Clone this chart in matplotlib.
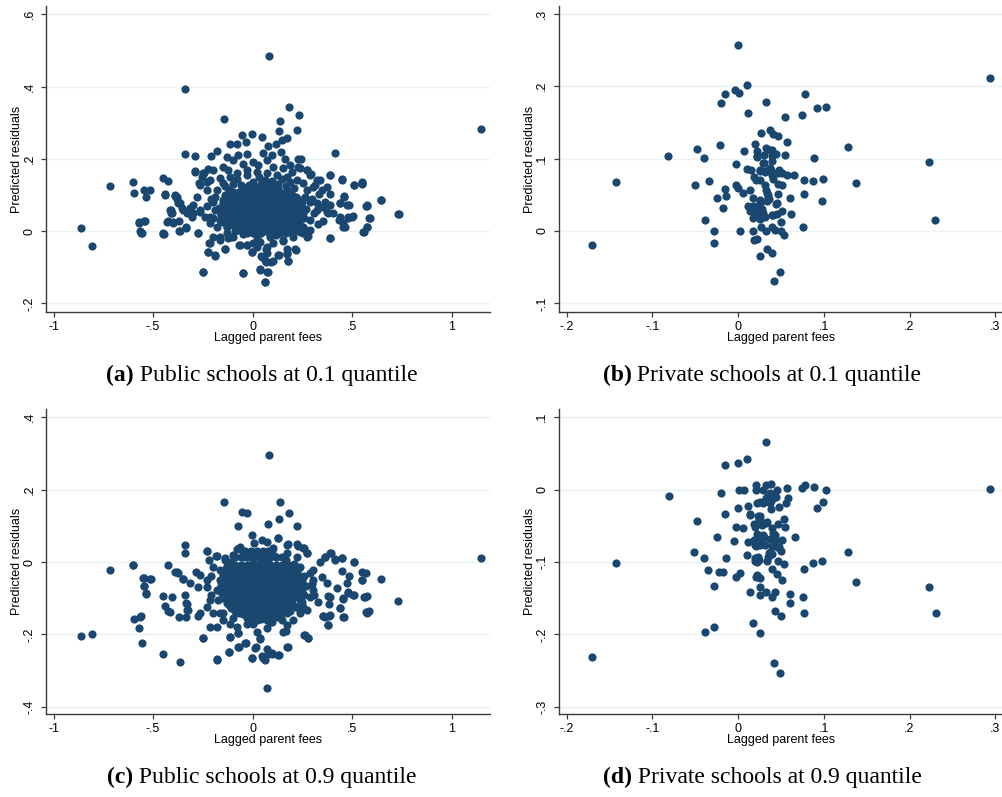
import numpy as np
import matplotlib
matplotlib.use("Agg")
import matplotlib.pyplot as plt
from matplotlib.offsetbox import TextArea, HPacker, AnnotationBbox

# residuals vs lagged parent fees, (x, y) pairs per panel
pub_q10_pts = [
    # outlying schools
    (0.082, 0.485), (-0.340, 0.392), (0.181, 0.344), (0.234, 0.321), (0.137, 0.305),
    (-0.142, 0.310), (1.150, 0.282), (0.223, 0.281), (0.131, 0.277), (-0.005, 0.269),
    (-0.055, 0.265), (0.045, 0.260), (0.172, 0.259), (0.146, 0.252), (-0.032, 0.247),
    (-0.077, 0.241), (-0.114, 0.241), (0.119, 0.241), (0.080, 0.236), (-0.177, 0.222),
    (0.142, 0.218), (-0.340, 0.214), (-0.288, 0.208), (-0.211, 0.207), (-0.030, 0.214),
    (0.052, 0.215), (0.099, 0.211), (0.415, 0.215), (0.164, 0.199), (0.226, 0.200),
    (0.241, 0.200), (-0.131, 0.206), (-0.072, 0.210), (-0.291, 0.163), (-0.450, 0.148),
    (-0.423, 0.139), (-0.601, 0.137), (-0.715, 0.125), (-0.594, 0.105), (-0.514, 0.115),
    (-0.544, 0.114), (-0.537, 0.093), (-0.440, 0.101), (-0.390, 0.101), (-0.382, 0.095),
    (-0.374, 0.079), (-0.412, 0.058), (-0.409, 0.049), (-0.423, 0.029), (-0.400, 0.026),
    (-0.372, 0.029), (-0.569, 0.024), (-0.542, 0.029), (-0.566, 0.001), (-0.558, -0.006),
    (-0.450, -0.006), (-0.443, -0.008), (-0.367, 0.000), (-0.336, 0.009), (-0.276, -0.004),
    (-0.860, 0.009), (-0.808, -0.042), (-0.355, 0.065), (-0.332, 0.049), (-0.306, 0.040),
    (-0.301, 0.072), (-0.264, 0.058), (-0.278, 0.094), (-0.270, 0.134), (-0.256, 0.150),
    (-0.244, 0.160), (-0.231, 0.137), (0.644, 0.085), (0.731, 0.047), (0.571, 0.069),
    (0.574, 0.072), (0.586, 0.037), (0.576, 0.012), (0.558, -0.002), (0.510, 0.127),
    (0.552, 0.135), (0.552, 0.129), (0.448, 0.141), (0.388, 0.155), (0.460, 0.095),
    (0.502, 0.040), (0.480, 0.035), (0.455, 0.012), (0.436, 0.032), (0.484, 0.072),
    (0.439, 0.077), (0.388, -0.020), (0.352, 0.029), (0.380, 0.049), (0.363, 0.081),
    (0.335, 0.104), (0.313, 0.127), (0.295, 0.157), (0.271, 0.169), (0.229, 0.176),
    (0.187, 0.182), (-0.248, -0.113), (-0.223, -0.057), (-0.189, -0.069), (-0.137, -0.049),
    (-0.050, -0.115), (0.039, -0.106), (0.074, -0.113), (0.064, -0.140), (0.091, -0.085),
    (0.062, -0.080), (0.132, -0.067), (0.171, -0.062), (0.177, -0.082), (0.213, -0.051),
    (0.151, -0.025), (-0.002, -0.057), (0.045, -0.071), (0.070, -0.062), (-0.218, -0.034),
    (-0.164, -0.025), (-0.114, -0.016), (-0.070, -0.039), (-0.030, -0.039), (0.020, -0.043),
    (0.279, -0.014), (0.251, -0.006), (0.204, -0.006), (0.257, 0.007), (0.288, 0.003),
    # ring around the centre
    (-0.096, 0.197), (-0.046, 0.187), (0.004, 0.192), (0.029, 0.183), (0.071, 0.197),
    (0.105, 0.178), (0.155, 0.174), (0.197, 0.164), (0.239, 0.174), (0.272, 0.169),
    (-0.289, 0.166), (-0.247, 0.160), (-0.222, 0.171), (-0.197, 0.169), (-0.147, 0.178),
    (-0.122, 0.169), (0.289, 0.155), (0.323, 0.141), (0.339, 0.141), (0.389, 0.155),
    (0.451, 0.143), (0.512, 0.127), (0.552, 0.132), (-0.264, 0.127), (-0.214, 0.141),
    (-0.163, 0.146), (0.306, 0.123), (0.348, 0.114), (0.373, 0.123), (0.389, 0.104),
    (0.461, 0.097), (0.644, 0.086), (-0.230, 0.114), (-0.188, 0.095), (-0.364, 0.077),
    (-0.348, 0.058), (-0.314, 0.063), (-0.297, 0.049), (-0.264, 0.054), (-0.381, 0.090),
    (-0.440, 0.102), (-0.389, 0.097), (-0.415, 0.058), (-0.406, 0.049), (0.289, 0.081),
    (0.323, 0.077), (0.356, 0.067), (0.389, 0.072), (0.440, 0.077), (0.473, 0.072),
    (0.323, 0.058), (0.373, 0.054), (0.406, 0.049), (0.440, 0.040), (0.481, 0.040),
    (0.506, 0.042), (0.574, 0.069), (0.590, 0.037), (0.736, 0.047), (0.456, 0.021),
    (0.465, 0.012), (0.574, 0.012), (0.557, -0.002), (0.389, -0.020), (0.272, -0.016),
    (0.239, -0.002), (0.255, 0.012), (-0.214, 0.040), (-0.214, 0.021), (-0.180, 0.012),
    (-0.163, -0.016), (-0.130, -0.006), (-0.122, -0.020), (-0.197, -0.016), (-0.096, -0.016),
    (-0.063, -0.039), (-0.029, -0.039), (0.004, -0.034), (0.038, -0.030), (0.071, -0.043),
    (0.105, -0.034), (0.152, -0.027), (0.205, -0.016), (-0.431, 0.026), (-0.398, 0.023),
    (-0.369, 0.000), (-0.336, 0.010), (-0.274, -0.004), (-0.448, -0.008), (-0.569, 0.021),
    (-0.560, -0.005), (-0.544, 0.028), (-0.214, -0.032), (-0.137, -0.050), (-0.001, -0.057),
    (-0.222, -0.059), (-0.188, -0.067), (0.068, -0.051), (0.101, -0.084), (0.068, -0.085),
    (0.044, -0.068), (0.130, -0.066), (0.175, -0.051), (0.175, -0.064), (0.217, -0.052),
    (0.177, -0.084), (-0.247, -0.113), (-0.048, -0.115), (0.039, -0.108), (0.075, -0.113),
    (0.063, -0.141), (-0.180, 0.114), (-0.147, 0.132), (-0.113, 0.150), (-0.079, 0.160),
    (-0.029, 0.169), (0.021, 0.164), (0.071, 0.160), (0.122, 0.155), (0.172, 0.150),
    (0.222, 0.141), (0.255, 0.132), (0.272, 0.114), (0.264, 0.095), (0.239, 0.072),
    (0.255, 0.049), (0.239, 0.030), (0.222, 0.017), (0.188, 0.003), (0.138, -0.006),
    (0.088, -0.016), (0.021, -0.016), (-0.029, -0.006), (-0.079, 0.003), (-0.130, 0.012),
    (-0.163, 0.030), (-0.188, 0.058), (-0.197, 0.081),
    # crowded band next to the centre
    (-0.14, 0.125), (-0.10, 0.130), (-0.06, 0.128), (0.13, 0.130), (0.17, 0.125),
    (0.21, 0.120), (0.19, 0.135), (-0.08, 0.145), (0.00, 0.135), (0.06, 0.140),
    (0.10, 0.138), (0.15, 0.145), (-0.12, 0.115), (0.20, 0.100), (0.23, 0.090),
    (0.25, 0.080), (0.27, 0.060), (0.26, 0.035), (0.24, 0.015), (0.21, 0.005),
    (0.17, -0.005), (0.12, -0.012), (-0.05, -0.008), (-0.09, 0.000), (-0.13, 0.010),
    (-0.15, 0.025), (-0.16, 0.045), (-0.17, 0.065), (-0.15, 0.085), (-0.14, 0.100),
    (-0.21, 0.090), (-0.23, 0.070), (-0.24, 0.040), (-0.20, 0.035), (0.30, 0.090),
    (0.31, 0.050), (0.29, 0.030), (0.33, 0.020), (0.03, 0.150), (-0.03, 0.155),
    (0.09, 0.125), (0.04, 0.130), (-0.02, 0.128),
    # dense centre
    (0.00, -0.004), (0.04, -0.006), (0.08, -0.003),
    (-0.045, 0.011), (-0.015, 0.009), (0.015, 0.012), (0.045, 0.008), (0.075, 0.011),
    (0.105, 0.010), (0.135, 0.012), (0.16, 0.009),
    (-0.10, 0.026), (-0.07, 0.024), (-0.04, 0.027), (-0.01, 0.025), (0.02, 0.023),
    (0.05, 0.026), (0.08, 0.024), (0.11, 0.027), (0.14, 0.025), (0.17, 0.023), (0.19, 0.027),
    (-0.115, 0.041), (-0.085, 0.039), (-0.055, 0.042), (-0.025, 0.040), (0.005, 0.038),
    (0.035, 0.041), (0.065, 0.039), (0.095, 0.042), (0.125, 0.040), (0.155, 0.038),
    (0.185, 0.041), (0.215, 0.039),
    (-0.13, 0.056), (-0.10, 0.054), (-0.07, 0.057), (-0.04, 0.055), (-0.01, 0.053),
    (0.02, 0.056), (0.05, 0.054), (0.08, 0.057), (0.11, 0.055), (0.14, 0.053),
    (0.17, 0.056), (0.20, 0.054), (0.23, 0.056),
    (-0.115, 0.071), (-0.085, 0.069), (-0.055, 0.072), (-0.025, 0.070), (0.005, 0.068),
    (0.035, 0.071), (0.065, 0.069), (0.095, 0.072), (0.125, 0.070), (0.155, 0.068),
    (0.185, 0.071), (0.215, 0.069),
    (-0.10, 0.086), (-0.07, 0.084), (-0.04, 0.087), (-0.01, 0.085), (0.02, 0.083),
    (0.05, 0.086), (0.08, 0.084), (0.11, 0.087), (0.14, 0.085), (0.17, 0.083), (0.19, 0.086),
    (-0.055, 0.101), (-0.025, 0.099), (0.005, 0.102), (0.035, 0.100), (0.065, 0.098),
    (0.095, 0.101), (0.125, 0.099), (0.155, 0.102), (0.175, 0.100),
    (-0.02, 0.116), (0.01, 0.114), (0.04, 0.117), (0.07, 0.115), (0.10, 0.113),
]

# overlapping schools in the solid middle of the public panels, row by row: (y, xs)
pub_q10_core_rows = [
    (0.003, [-0.08, -0.05, -0.02, 0.01, 0.04, 0.07, 0.10, 0.13]),
    (0.018, [-0.13, -0.10, -0.07, -0.04, -0.01, 0.02, 0.05, 0.08, 0.11, 0.14, 0.17, 0.20]),
    (0.033, [-0.15, -0.12, -0.09, -0.06, -0.03, 0.00, 0.03, 0.06, 0.09, 0.12, 0.15, 0.18,
             0.21, 0.23]),
    (0.048, [-0.16, -0.13, -0.10, -0.07, -0.04, -0.01, 0.02, 0.05, 0.08, 0.11, 0.14, 0.17,
             0.20, 0.23, 0.25]),
    (0.063, [-0.16, -0.13, -0.10, -0.07, -0.04, -0.01, 0.02, 0.05, 0.08, 0.11, 0.14, 0.17,
             0.20, 0.23, 0.25]),
    (0.078, [-0.15, -0.12, -0.09, -0.06, -0.03, 0.00, 0.03, 0.06, 0.09, 0.12, 0.15, 0.18,
             0.21, 0.24]),
    (0.093, [-0.13, -0.10, -0.07, -0.04, -0.01, 0.02, 0.05, 0.08, 0.11, 0.14, 0.17, 0.20,
             0.22]),
    (0.108, [-0.10, -0.07, -0.04, -0.01, 0.02, 0.05, 0.08, 0.11, 0.14, 0.17, 0.19]),
    (0.122, [-0.05, -0.02, 0.01, 0.04, 0.07, 0.10, 0.13]),
]

pub_q90_core_rows = [
    (0.030, [-0.04, -0.01, 0.02, 0.05, 0.08, 0.10]),
    (0.015, [-0.09, -0.06, -0.03, 0.00, 0.03, 0.06, 0.09, 0.12, 0.15]),
    (-0.007, [-0.12, -0.09, -0.06, -0.03, 0.00, 0.03, 0.06, 0.09, 0.12, 0.15, 0.18]),
    (-0.022, [-0.14, -0.11, -0.08, -0.05, -0.02, 0.01, 0.04, 0.07, 0.10, 0.13, 0.16, 0.19,
              0.21]),
    (-0.037, [-0.15, -0.12, -0.09, -0.06, -0.03, 0.00, 0.03, 0.06, 0.09, 0.12, 0.15, 0.18,
              0.21, 0.23]),
    (-0.052, [-0.16, -0.13, -0.10, -0.07, -0.04, -0.01, 0.02, 0.05, 0.08, 0.11, 0.14, 0.17,
              0.20, 0.23, 0.25]),
    (-0.067, [-0.16, -0.13, -0.10, -0.07, -0.04, -0.01, 0.02, 0.05, 0.08, 0.11, 0.14, 0.17,
              0.20, 0.23, 0.25]),
    (-0.082, [-0.16, -0.13, -0.10, -0.07, -0.04, -0.01, 0.02, 0.05, 0.08, 0.11, 0.14, 0.17,
              0.20, 0.23, 0.25]),
    (-0.097, [-0.15, -0.12, -0.09, -0.06, -0.03, 0.00, 0.03, 0.06, 0.09, 0.12, 0.15, 0.18,
              0.21, 0.23]),
    (-0.112, [-0.13, -0.10, -0.07, -0.04, -0.01, 0.02, 0.05, 0.08, 0.11, 0.14, 0.17, 0.20]),
    (-0.127, [-0.11, -0.08, -0.05, -0.02, 0.01, 0.04, 0.07, 0.10, 0.13, 0.16, 0.19]),
    (-0.142, [-0.07, -0.04, -0.01, 0.02, 0.05, 0.08, 0.11, 0.14]),
    (-0.157, [-0.02, 0.01, 0.04, 0.07, 0.10]),
]

priv_q10_pts = [
    (0.000, 0.257), (0.0105, 0.202), (-0.004, 0.195), (0.001, 0.191), (-0.015, 0.189),
    (-0.020, 0.177), (0.032, 0.178), (0.012, 0.163), (0.078, 0.189), (0.092, 0.170),
    (0.102, 0.172), (0.074, 0.161), (0.055, 0.158), (0.294, 0.212), (0.027, 0.135),
    (0.037, 0.139), (0.041, 0.134), (0.046, 0.131), (0.057, 0.123), (0.020, 0.120),
    (0.032, 0.115), (0.022, 0.111), (0.0074, 0.111), (0.040, 0.112), (-0.021, 0.119),
    (-0.048, 0.114), (-0.040, 0.101), (-0.082, 0.103), (0.022, 0.102), (0.030, 0.105),
    (0.039, 0.104), (0.044, 0.107), (0.055, 0.105), (0.089, 0.101), (0.128, 0.116),
    (0.223, 0.096), (-0.003, 0.093), (0.030, 0.094), (0.039, 0.097), (0.0105, 0.086),
    (0.015, 0.084), (0.026, 0.083), (0.033, 0.083), (0.038, 0.084), (0.048, 0.084),
    (0.040, 0.078), (0.051, 0.080), (0.057, 0.077), (0.065, 0.077), (0.077, 0.070),
    (0.087, 0.069), (0.099, 0.072), (0.138, 0.066), (-0.143, 0.068), (-0.050, 0.063),
    (-0.034, 0.069), (-0.003, 0.063), (0.000, 0.060), (0.021, 0.070), (0.025, 0.071),
    (0.031, 0.063), (0.041, 0.072), (0.046, 0.065), (0.051, 0.063), (0.006, 0.053),
    (0.014, 0.056), (0.033, 0.056), (0.035, 0.050), (0.047, 0.051), (-0.015, 0.058),
    (-0.014, 0.049), (-0.025, 0.045), (0.017, 0.045), (0.036, 0.044), (0.061, 0.046),
    (0.077, 0.051), (0.098, 0.041), (-0.018, 0.032), (0.012, 0.035), (0.017, 0.034),
    (0.026, 0.038), (0.044, 0.037), (0.014, 0.028), (0.022, 0.031), (0.028, 0.031),
    (0.017, 0.018), (0.025, 0.017), (0.031, 0.020), (0.040, 0.022), (0.045, 0.024),
    (0.051, 0.027), (0.062, 0.024), (0.050, 0.012), (-0.039, 0.015), (-0.028, 0.000),
    (0.002, 0.000), (0.017, 0.000), (0.027, 0.005), (0.032, 0.000), (0.040, 0.006),
    (0.043, 0.001), (0.050, 0.000), (0.053, -0.006), (0.076, 0.006), (0.230, 0.015),
    (-0.028, -0.016), (-0.170, -0.019), (0.019, -0.012), (0.022, -0.011), (0.034, -0.025),
    (0.025, -0.035), (0.040, -0.030), (0.049, -0.057), (0.042, -0.069),
    (0.016, 0.031), (0.0257, 0.038), (0.0335, 0.041), (0.045, 0.038), (0.0218, 0.0245),
    (0.0296, 0.0245), (0.041, 0.022), (0.018, 0.075), (0.0257, 0.084), (0.0315, 0.082),
    (0.037, 0.087), (0.047, 0.080), (0.0218, 0.103), (0.0296, 0.094), (0.037, 0.112),
    (0.0335, 0.052), (0.0354, 0.045), (0.0257, 0.043),
]

pub_q90_pts = [
    # outlying schools
    (0.082, 0.297), (-0.142, 0.165), (0.137, 0.166), (-0.054, 0.138), (-0.030, 0.135),
    (0.181, 0.135), (0.131, 0.120), (0.080, 0.104), (-0.072, 0.100), (0.223, 0.100),
    (-0.005, 0.075), (0.127, 0.066), (1.150, 0.010), (-0.340, 0.046), (-0.340, 0.024),
    (-0.231, 0.030), (-0.182, 0.017), (-0.601, -0.009), (-0.715, -0.023), (-0.423, -0.008),
    (-0.390, -0.027), (-0.374, -0.029), (-0.546, -0.044), (-0.514, -0.048), (-0.544, -0.065),
    (-0.537, -0.087), (-0.348, -0.048), (-0.450, -0.093), (-0.403, -0.098), (-0.442, -0.122),
    (-0.423, -0.135), (-0.415, -0.137), (-0.372, -0.152), (-0.340, -0.091), (-0.332, -0.116),
    (-0.324, -0.133), (-0.594, -0.158), (-0.566, -0.151), (-0.569, -0.181), (-0.558, -0.224),
    (-0.860, -0.205), (-0.808, -0.199), (-0.450, -0.255), (-0.367, -0.276), (-0.248, -0.210),
    (-0.177, -0.269), (-0.119, -0.248), (-0.114, -0.208), (-0.075, -0.197), (-0.070, -0.236),
    (-0.037, -0.223), (-0.002, -0.265), (0.015, -0.236), (0.049, -0.260), (0.064, -0.271),
    (0.070, -0.239), (0.079, -0.254), (0.099, -0.254), (0.134, -0.256), (0.174, -0.234),
    (0.167, -0.191), (0.037, -0.212), (0.074, -0.348), (0.258, -0.203), (0.279, -0.209),
    (0.380, -0.174), (0.352, -0.149), (0.388, -0.147), (0.455, -0.153), (0.439, -0.128),
    (0.455, -0.101), (0.480, -0.087), (0.509, -0.091), (0.559, -0.096), (0.576, -0.094),
    (0.571, -0.138), (0.586, -0.136), (0.552, -0.050), (0.552, -0.027), (0.571, -0.031),
    (0.644, -0.047), (0.731, -0.109), (0.510, 0.000), (0.448, 0.010), (0.448, -0.025),
    (0.484, -0.038), (0.472, -0.059), (0.425, -0.073), (0.393, 0.024), (0.363, 0.015),
    (0.413, 0.006), (0.380, -0.093), (0.385, -0.116), (0.363, -0.151), (0.226, 0.044),
    (0.179, 0.049), (0.254, 0.038), (0.274, 0.024),
    # ring around the centre
    (-0.227, 0.030), (-0.219, 0.006), (-0.180, 0.017), (-0.381, -0.027), (-0.348, -0.048),
    (-0.285, -0.027), (-0.264, -0.036), (-0.272, -0.068), (-0.314, -0.059), (-0.230, -0.050),
    (-0.197, -0.013), (-0.163, -0.022), (-0.138, 0.006), (-0.113, 0.001), (-0.079, 0.035),
    (-0.063, 0.042), (0.008, 0.052), (0.046, 0.061), (0.071, 0.056), (0.130, 0.065),
    (0.172, 0.047), (0.222, 0.050), (0.259, 0.038), (0.272, 0.024), (0.339, 0.001),
    (0.364, 0.013), (0.389, 0.026), (0.415, 0.007), (0.451, 0.010), (0.512, 0.001),
    (0.306, -0.022), (0.348, -0.041), (0.373, -0.059), (0.389, -0.096), (0.440, -0.128),
    (0.456, -0.100), (0.481, -0.082), (0.506, -0.091), (0.549, -0.050), (0.565, -0.096),
    (0.574, -0.140), (0.306, -0.050), (0.306, -0.077), (0.289, -0.096), (0.272, -0.133),
    (0.239, -0.142), (0.255, -0.124), (0.264, -0.202), (0.280, -0.209), (0.381, -0.174),
    (0.356, -0.149), (0.384, -0.149), (0.460, -0.153), (0.172, -0.174), (0.180, -0.234),
    (0.130, -0.257), (0.096, -0.252), (0.054, -0.266), (0.013, -0.237), (-0.001, -0.265),
    (-0.034, -0.225), (-0.071, -0.234), (-0.117, -0.249), (-0.177, -0.271), (-0.247, -0.211),
    (-0.113, -0.208), (-0.071, -0.197), (0.021, -0.193), (0.038, -0.211), (0.071, -0.183),
    (0.088, -0.165), (0.155, -0.193), (0.205, -0.160), (-0.147, -0.160), (-0.180, -0.179),
    (-0.214, -0.179), (-0.163, -0.142), (-0.197, -0.142), (-0.230, -0.124), (-0.214, -0.105),
    (-0.334, -0.151), (-0.334, -0.114), (-0.328, -0.133), (-0.272, -0.149), (-0.264, -0.142),
    (-0.562, -0.149), (-0.549, -0.044), (-0.512, -0.047), (-0.544, -0.066), (-0.535, -0.088),
    (-0.600, -0.009), (-0.147, -0.140), (-0.105, -0.119), (-0.113, -0.170), (-0.079, -0.179),
    (-0.029, -0.170), (0.021, -0.160), (0.122, -0.151), (0.172, -0.142), (0.222, -0.124),
    (0.239, -0.105), (0.239, -0.077), (0.239, -0.050), (0.239, -0.013), (0.222, 0.015),
    (0.172, 0.024), (0.105, 0.038), (-0.046, 0.029), (-0.130, -0.013), (-0.163, -0.050),
    (-0.180, -0.077), (-0.172, -0.105),
    # crowded band next to the centre
    (-0.14, 0.010), (-0.10, 0.020), (-0.05, 0.015), (0.12, 0.015), (0.17, 0.005),
    (0.21, -0.005), (0.23, -0.020), (0.26, -0.040), (0.27, -0.065), (0.26, -0.090),
    (0.25, -0.110), (0.22, -0.125), (0.19, -0.135), (0.15, -0.140), (0.12, -0.150),
    (-0.05, -0.145), (-0.09, -0.135), (-0.12, -0.120), (-0.15, -0.100), (-0.16, -0.080),
    (-0.16, -0.055), (-0.15, -0.030), (-0.13, -0.010), (-0.21, -0.040), (-0.23, -0.070),
    (-0.21, -0.090), (0.30, -0.060), (0.31, -0.090), (0.29, -0.030), (0.00, 0.025),
    (0.06, 0.020), (0.09, 0.030), (0.02, -0.155), (0.07, -0.160), (0.00, -0.170),
    (-0.03, -0.155), (0.10, -0.165), (0.15, -0.160), (-0.10, -0.155), (0.33, -0.110),
    # dense centre
    (0.00, 0.001), (0.04, -0.002), (0.08, 0.002),
    (-0.045, -0.014), (-0.015, -0.016), (0.015, -0.013), (0.045, -0.017), (0.075, -0.015),
    (0.105, -0.014), (0.135, -0.016), (0.16, -0.013),
    (-0.10, -0.029), (-0.07, -0.031), (-0.04, -0.028), (-0.01, -0.030), (0.02, -0.032),
    (0.05, -0.029), (0.08, -0.031), (0.11, -0.028), (0.14, -0.030), (0.17, -0.032), (0.19, -0.029),
    (-0.115, -0.044), (-0.085, -0.046), (-0.055, -0.043), (-0.025, -0.045), (0.005, -0.047),
    (0.035, -0.044), (0.065, -0.046), (0.095, -0.043), (0.125, -0.045), (0.155, -0.047),
    (0.185, -0.044), (0.215, -0.046),
    (-0.13, -0.059), (-0.10, -0.061), (-0.07, -0.058), (-0.04, -0.060), (-0.01, -0.062),
    (0.02, -0.059), (0.05, -0.061), (0.08, -0.058), (0.11, -0.060), (0.14, -0.062),
    (0.17, -0.059), (0.20, -0.061), (0.23, -0.059),
    (-0.115, -0.074), (-0.085, -0.076), (-0.055, -0.073), (-0.025, -0.075), (0.005, -0.077),
    (0.035, -0.074), (0.065, -0.076), (0.095, -0.073), (0.125, -0.075), (0.155, -0.077),
    (0.185, -0.074), (0.215, -0.076), (0.24, -0.074),
    (-0.12, -0.089), (-0.09, -0.091), (-0.06, -0.088), (-0.03, -0.090), (0.00, -0.092),
    (0.03, -0.089), (0.06, -0.091), (0.09, -0.088), (0.12, -0.090), (0.15, -0.092),
    (0.18, -0.089), (0.21, -0.091),
    (-0.085, -0.104), (-0.055, -0.106), (-0.025, -0.103), (0.005, -0.105), (0.035, -0.107),
    (0.065, -0.104), (0.095, -0.106), (0.125, -0.103), (0.155, -0.105), (0.185, -0.107),
    (-0.07, -0.119), (-0.04, -0.121), (-0.01, -0.118), (0.02, -0.120), (0.05, -0.122),
    (0.08, -0.119), (0.11, -0.121), (0.14, -0.118), (0.16, -0.120),
    (-0.005, -0.134), (0.025, -0.136), (0.055, -0.133), (0.085, -0.135), (0.115, -0.137),
]

priv_q90_pts = [
    (0.032, 0.066), (0.0105, 0.043), (0.000, 0.037), (-0.015, 0.034), (0.294, 0.001),
    (-0.081, -0.009), (-0.020, -0.004), (0.001, 0.000), (0.007, 0.000), (0.021, 0.007),
    (0.021, 0.000), (0.032, 0.007), (0.0385, 0.008), (0.029, 0.000), (0.037, -0.005),
    (0.033, -0.011), (0.045, 0.000), (0.057, 0.002), (0.074, 0.002), (0.078, 0.007),
    (0.089, 0.004), (0.102, 0.000), (0.099, -0.017), (0.092, -0.026), (0.056, -0.018),
    (0.058, -0.012), (0.048, -0.024), (0.041, -0.012), (0.044, -0.010), (0.038, -0.016),
    (0.038, -0.027), (0.029, -0.019), (0.022, -0.018), (0.026, -0.017), (0.000, -0.026),
    (0.012, -0.023), (-0.015, -0.033), (0.014, -0.035), (0.025, -0.036), (0.033, -0.046),
    (0.024, -0.040), (0.028, -0.049), (0.018, -0.047), (0.006, -0.053), (-0.003, -0.052),
    (-0.048, -0.043), (0.053, -0.041), (0.055, -0.052), (0.046, -0.048), (0.039, -0.053),
    (0.041, -0.060), (0.066, -0.065), (-0.025, -0.066), (-0.005, -0.071), (0.012, -0.072),
    (0.019, -0.070), (0.022, -0.065), (0.030, -0.066), (0.031, -0.076), (0.021, -0.078),
    (0.044, -0.070), (0.051, -0.070), (0.048, -0.079), (0.050, -0.085), (0.040, -0.078),
    (0.036, -0.088), (0.040, -0.089), (-0.051, -0.086), (-0.040, -0.094), (-0.014, -0.094),
    (0.010, -0.091), (0.020, -0.094), (0.022, -0.100), (0.024, -0.097), (0.034, -0.099),
    (0.047, -0.098), (0.053, -0.103), (0.087, -0.101), (0.098, -0.098), (0.077, -0.109),
    (0.128, -0.086), (0.138, -0.127), (0.223, -0.135), (0.231, -0.171), (-0.143, -0.102),
    (-0.035, -0.111), (-0.022, -0.114), (-0.018, -0.114), (-0.003, -0.121), (0.002, -0.115),
    (0.021, -0.121), (0.026, -0.122), (0.022, -0.118), (0.040, -0.110), (0.045, -0.116),
    (0.051, -0.125), (-0.028, -0.133), (0.026, -0.135), (0.014, -0.142), (0.033, -0.141),
    (0.026, -0.145), (0.040, -0.148), (0.043, -0.142), (0.061, -0.144), (0.076, -0.148),
    (0.061, -0.156), (0.043, -0.167), (0.050, -0.174), (0.077, -0.170), (0.017, -0.184),
    (-0.028, -0.190), (-0.039, -0.197), (0.025, -0.198), (-0.170, -0.231), (0.042, -0.239),
    (0.049, -0.254),
    (0.014, -0.033), (0.0237, -0.036), (0.0257, -0.042), (0.0335, -0.045), (0.0198, -0.052),
    (0.0218, -0.061), (0.0296, -0.063), (0.0277, -0.070), (0.037, -0.068), (0.043, -0.063),
    (0.0257, -0.077), (0.0198, -0.077), (0.037, -0.086), (0.045, -0.079), (0.0335, -0.010),
    (0.041, -0.008), (0.0296, -0.017), (0.037, -0.019), (0.0237, -0.093), (0.0198, -0.098),
    (0.0354, -0.093), (0.0218, -0.119),
]

pub_xticks = [-1, -0.5, 0, 0.5, 1]
pub_xticklabels = ["-1", "-.5", "0", ".5", "1"]
priv_xticks = [-0.2, -0.1, 0, 0.1, 0.2, 0.3]
priv_xticklabels = ["-.2", "-.1", "0", ".1", ".2", ".3"]

yticks_a = [-0.2, 0, 0.2, 0.4, 0.6]
yticklabels_a = ["-.2", "0", ".2", ".4", ".6"]
yticks_b = [-0.1, 0, 0.1, 0.2, 0.3]
yticklabels_b = ["-.1", "0", ".1", ".2", ".3"]
yticks_c = [-0.4, -0.2, 0, 0.2, 0.4]
yticklabels_c = ["-.4", "-.2", "0", ".2", ".4"]
yticks_d = [-0.3, -0.2, -0.1, 0, 0.1]
yticklabels_d = ["-.3", "-.2", "-.1", "0", ".1"]

captions = [
    ("(a)", " Public schools at 0.1 quantile"),
    ("(b)", " Private schools at 0.1 quantile"),
    ("(c)", " Public schools at 0.9 quantile"),
    ("(d)", " Private schools at 0.9 quantile"),
]

MARKER = "#1a476f"
GRID = "#eaf2f3"
AXCOL = "#3a3a3a"
SANS = ["Liberation Sans", "DejaVu Sans"]
SERIF = ["Liberation Serif", "DejaVu Serif"]


def with_core(pts, rows):
    extra = [(x, y) for y, xs in rows for x in xs]
    return np.array(pts + extra)


fig = plt.figure(figsize=(10.03, 7.97), dpi=100)
fig.patch.set_facecolor("white")

W, H = 1003.0, 797.0
# left, right, top, bottom in pixels, plus x/y limits
panels = [
    (with_core(pub_q10_pts, pub_q10_core_rows), 46, 490, 6, 312,
     (-1.038, 1.193), (-0.224, 0.623), pub_xticks, pub_xticklabels, yticks_a, yticklabels_a),
    (np.array(priv_q10_pts), 558.7, 1003, 6, 312,
     (-0.2093, 0.309), (-0.112, 0.311), priv_xticks, priv_xticklabels, yticks_b, yticklabels_b),
    (with_core(pub_q90_pts, pub_q90_core_rows), 46, 490, 409.3, 714,
     (-1.038, 1.193), (-0.420, 0.422), pub_xticks, pub_xticklabels, yticks_c, yticklabels_c),
    (np.array(priv_q90_pts), 558.7, 1003, 409.3, 714,
     (-0.2093, 0.309), (-0.310, 0.111), priv_xticks, priv_xticklabels, yticks_d, yticklabels_d),
]

for i, (xy, l, r, t, b, xl, yl, xt, xtl, yt, ytl) in enumerate(panels):
    ax = fig.add_axes([l / W, 1 - b / H, (r - l) / W, (b - t) / H])
    ax.plot(xy[:, 0], xy[:, 1], "o", ms=5.9, color=MARKER, mec=MARKER,
            mew=0, clip_on=False, zorder=3)
    ax.set_xlim(*xl)
    ax.set_ylim(*yl)
    ax.set_xticks(xt)
    ax.set_xticklabels(xtl, family=SANS, fontsize=9)
    ax.set_yticks(yt)
    ax.set_yticklabels(ytl, family=SANS, fontsize=9, rotation=90, va="center")
    for yv in yt:
        ax.axhline(yv, color=GRID, lw=1.0, zorder=0)
    for s in ["top", "right"]:
        ax.spines[s].set_visible(False)
    for s in ["left", "bottom"]:
        ax.spines[s].set_color(AXCOL)
        ax.spines[s].set_linewidth(1.0)
    ax.tick_params(length=3.5, width=0.9, color=AXCOL, labelcolor="black", pad=3)
    ax.tick_params(axis="y", pad=4)

    cx = (l + r) / 2 / W
    fig.text(cx, 1 - (b + 26) / H, "Lagged parent fees", family=SANS,
             fontsize=9, ha="center", va="center")
    fig.text((l - 29) / W, 1 - (t + b) / 2 / H, "Predicted residuals", family=SANS,
             fontsize=9, ha="center", va="center", rotation=90)

    tag, rest = captions[i]
    box = HPacker(children=[
        TextArea(tag, textprops=dict(family=SERIF, fontsize=17, fontweight="bold")),
        TextArea(rest, textprops=dict(family=SERIF, fontsize=17)),
    ], align="baseline", pad=0, sep=0)
    capx = (262 if l < 500 else 762) / W
    capy = 1 - (b + 63) / H
    fig.add_artist(AnnotationBbox(box, (capx, capy), xycoords="figure fraction",
                                  frameon=False, box_alignment=(0.5, 0.5)))

fig.savefig("out.png", dpi=100, facecolor="white")
